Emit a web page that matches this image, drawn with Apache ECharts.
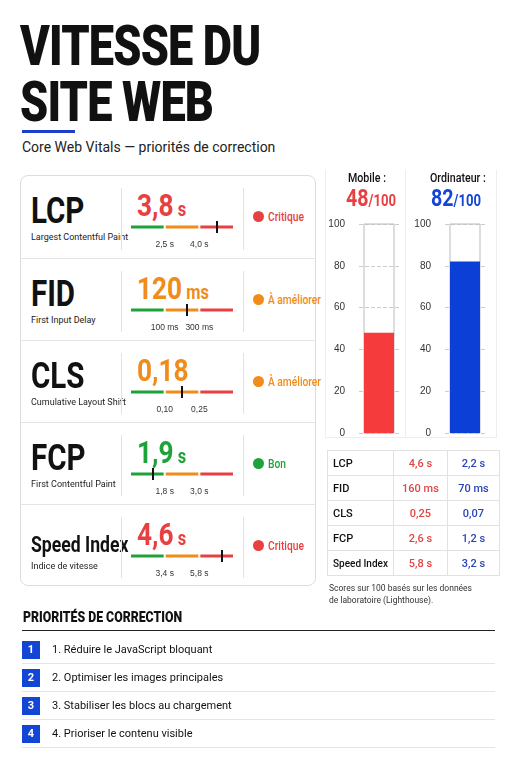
<!DOCTYPE html>
<html><head><meta charset="utf-8">
<script src="https://cdn.jsdelivr.net/npm/echarts@6/dist/echarts.min.js"></script>
<style>
body{margin:0;width:511px;height:768px;background:#fff;font-family:Roboto,sans-serif;position:relative;overflow:hidden;color:#111}
*{box-sizing:border-box}
.a{position:absolute;white-space:nowrap}
.cond{display:inline-block;transform:scaleX(.82);transform-origin:left center;white-space:nowrap}
.title{font-weight:900;font-size:55px;line-height:56px;letter-spacing:-1px}
.card{position:absolute;left:20px;top:175px;width:296px;height:411px;border:1px solid #ddd;border-radius:8px}
.row{position:absolute;left:0;width:294px;height:82px;border-top:1px solid #e4e4e4}
.abbr{position:absolute;left:10px;top:14px;font-weight:700;font-size:36px;line-height:42px}
.sub{position:absolute;left:10px;top:56px;font-size:9px;color:#222;white-space:nowrap}
.vd{position:absolute;top:12px;bottom:8px;border-left:1px solid #e2e2e2}
.val{position:absolute;left:116px;top:10px;font-weight:700;font-size:32px}
.val small{font-size:20px}
.thr{position:absolute;left:106px;top:44px;width:110px;height:38px}
.st{position:absolute;left:232px;top:33px;font-size:12.5px;font-weight:500;white-space:nowrap}
.dot{display:inline-block;width:11px;height:11px;border-radius:50%;margin-right:4px;vertical-align:-1px}
table{position:absolute;left:327px;top:450px;border-collapse:collapse;font-size:11px}
td{border:1px solid #e2e2e2;height:25px;padding:0 5px;font-weight:500;white-space:nowrap}
.pr{position:absolute;left:22px;width:473px;height:27px;border-bottom:1px solid #e4e4e4;font-size:11px}
.pr b{position:absolute;left:0;top:4px;width:18px;height:18px;background:#1446d6;color:#fff;text-align:center;line-height:18px;font-size:11px}
.pr span{position:absolute;left:30px;top:6px}
</style></head><body>
<div class="a title" style="left:20px;top:18px"><span class="cond">VITESSE DU<br>SITE WEB</span></div>
<div class="a" style="left:22px;top:130px;width:53px;height:3px;background:#1a3fcc"></div>
<div class="a" style="left:22px;top:139px;font-size:14px;color:#222">Core Web Vitals — priorités de correction</div>
<div class="card" id="card"></div>
<div class="a" style="left:325px;top:170px;width:172px;height:268px;border-left:1px solid #eee;border-right:1px solid #eee;border-bottom:1px solid #eee"></div>
<div class="a" style="left:405px;top:170px;height:268px;border-left:1px solid #eee"></div>
<div class="a" style="left:348px;top:170px;font-size:13px;font-weight:500"><span class="cond">Mobile :</span></div>
<div class="a" style="left:346px;top:184px;font-size:24px;font-weight:700;color:#e84040"><span class="cond">48<small style="font-size:16px">/100</small></span></div>
<div class="a" style="left:430px;top:170px;font-size:13px;font-weight:500"><span class="cond">Ordinateur :</span></div>
<div class="a" style="left:431px;top:184px;font-size:24px;font-weight:700;color:#1446d6"><span class="cond">82<small style="font-size:16px">/100</small></span></div>
<div id="score" class="a" style="left:325px;top:210px;width:180px;height:235px"></div>
<table id="tbl"></table>
<div class="a" style="left:329px;top:582px;font-size:8.5px;line-height:12px;color:#333">Scores sur 100 basés sur les données<br>de laboratoire (Lighthouse).</div>
<div class="a" style="left:23px;top:608px;font-size:15px;font-weight:900"><span class="cond">PRIORITÉS DE CORRECTION</span></div>
<div class="a" style="left:22px;top:630px;width:473px;height:1px;background:#222"></div>
<div id="prio"></div>
<script>
var metrics = ["LCP", "FID", "CLS", "FCP", "Speed Index"];
var metricNames = ["Largest Contentful Paint", "First Input Delay", "Cumulative Layout Shift", "First Contentful Paint", "Indice de vitesse"];
var valueNum = ["3,8", "120", "0,18", "1,9", "4,6"];
var valueUnit = [" s", " ms", "", " s", " s"];
var thresholdLow = ["2,5 s", "100 ms", "0,10", "1,8 s", "3,4 s"];
var thresholdHigh = ["4,0 s", "300 ms", "0,25", "3,0 s", "5,8 s"];
var markerPos = [2.5, 1.65, 1.5, 0.65, 2.65]; // position sur la jauge (0-3)
var statusLabel = ["Critique", "À améliorer", "À améliorer", "Bon", "Critique"];
var statusColor = ["#e84040", "#f08c1a", "#f08c1a", "#1fa23a", "#e84040"];
var zones = [1, 1, 1];
var zoneColors = ["#1fa23a", "#f08c1a", "#e84040"];
var devices = ["Mobile", "Ordinateur"];
var scores = [48, 82];
var scoreColors = ["#f53b3b", "#0b3fd6"];
var tableMobile = ["4,6 s", "160 ms", "0,25", "2,6 s", "5,8 s"];
var tableDesktop = ["2,2 s", "70 ms", "0,07", "1,2 s", "3,2 s"];
var priorities = ["1. Réduire le JavaScript bloquant", "2. Optimiser les images principales", "3. Stabiliser les blocs au chargement", "4. Prioriser le contenu visible"];

var card = document.getElementById("card");
metrics.forEach(function (m, i) {
    var r = document.createElement("div");
    r.className = "row";
    r.style.top = (i * 82) + "px";
    if (i == 0) r.style.borderTop = "none";
    var big = i == 4 ? ' style="font-size:22px;line-height:30px;transform:scaleX(.8)"' : '';
    r.innerHTML = '<div class="abbr"><span class="cond"' + big + '>' + m + '</span></div>' +
        '<div class="sub">' + metricNames[i] + '</div>' +
        '<div class="vd" style="left:100px"></div><div class="vd" style="left:222px"></div>' +
        '<div class="val" style="color:' + statusColor[i] + '"><span class="cond">' + valueNum[i] + '<small>' + valueUnit[i] + '</small></span></div>' +
        '<div class="thr" id="thr' + i + '"></div>' +
        '<div class="st" style="color:' + statusColor[i] + '"><span class="dot" style="background:' + statusColor[i] + '"></span><span class="cond">' + statusLabel[i] + '</span></div>';
    card.appendChild(r);
    var c = echarts.init(document.getElementById("thr" + i));
    c.setOption({
        animation: false,
        grid: { left: 3, right: 3, top: 4, height: 6 },
        xAxis: { type: "value", min: 0, max: 3, interval: 1, show: true, axisLine: { show: false }, axisTick: { show: false }, splitLine: { show: false },
            axisLabel: { color: "#333", fontSize: 8.5, margin: 10, formatter: function (v) { return v == 1 ? thresholdLow[i] : v == 2 ? thresholdHigh[i] : ""; } } },
        yAxis: { type: "category", data: [""], show: false },
        series: zones.map(function (z, k) {
            var s = { type: "bar", stack: "z", data: [z], barWidth: 5, itemStyle: { color: zoneColors[k], borderColor: "#fff", borderWidth: 1 } };
            if (k == 0) s.markLine = { symbol: "none", silent: true, label: { show: false }, lineStyle: { color: "#111", width: 2, type: "solid" }, data: [[{ coord: [markerPos[i], 0], y: 1 }, { coord: [markerPos[i], 0], y: 13 }]] };
            return s;
        })
    });
});

var sc = echarts.init(document.getElementById("score"));
sc.setOption({
    animation: false,
    grid: [{ left: 34, top: 14, width: 40, bottom: 12 }, { left: 120, top: 14, width: 40, bottom: 12 }],
    xAxis: [0, 1].map(function (g) { return { gridIndex: g, type: "category", data: [devices[g]], show: false }; }),
    yAxis: [0, 1].map(function (g) {
        return { gridIndex: g, type: "value", min: 0, max: 100, interval: 20, axisLine: { show: false }, axisTick: { show: false },
            axisLabel: { color: "#333", fontSize: 10, margin: 14 },
            splitLine: { lineStyle: { color: "#ccc", type: "dashed" } } };
    }),
    series: [0, 1].map(function (g) {
        return { type: "bar", xAxisIndex: g, yAxisIndex: g, data: [scores[g]], barWidth: 30,
            itemStyle: { color: scoreColors[g] },
            showBackground: true, backgroundStyle: { color: "rgba(0,0,0,0)", borderColor: "#bbb", borderWidth: 1 } };
    })
});

var tb = "";
metrics.forEach(function (m, i) {
    tb += '<tr><td style="width:62px;font-size:' + (i == 4 ? 10 : 11) + 'px">' + m + '</td><td style="width:54px;text-align:center;color:#e04545">' + tableMobile[i] + '</td><td style="width:52px;text-align:center;color:#2a45b8">' + tableDesktop[i] + '</td></tr>';
});
document.getElementById("tbl").innerHTML = tb;

var pr = "";
priorities.forEach(function (p, i) {
    pr += '<div class="pr" style="top:' + (637 + i * 28) + 'px"><b>' + (i + 1) + '</b><span>' + p + '</span></div>';
});
document.getElementById("prio").innerHTML = pr;
</script>
</body></html>
